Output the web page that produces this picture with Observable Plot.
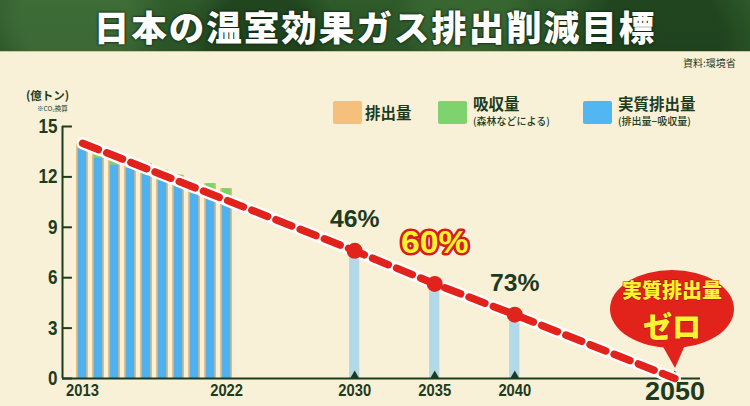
<!DOCTYPE html>
<html><head><meta charset="utf-8">
<script src="https://cdn.jsdelivr.net/npm/d3@7"></script>
<script src="https://cdn.jsdelivr.net/npm/@observablehq/plot@0.6"></script>
<style>
body{margin:0;background:#f8f1d7;}
#wrap{position:relative;width:750px;height:406px;overflow:hidden;background:#f8f1d7;font-family:"Noto Sans CJK JP",sans-serif;color:#1d3b1e;}
#title{height:52px;color:#fff;font-size:35.5px;font-weight:900;text-align:center;line-height:52px;letter-spacing:2px;
 background:
  radial-gradient(circle at 10% 30%, rgba(80,130,70,.45) 0 8%, transparent 14%),
  radial-gradient(circle at 35% 80%, rgba(20,50,20,.5) 0 10%, transparent 16%),
  radial-gradient(circle at 62% 20%, rgba(70,120,60,.4) 0 9%, transparent 15%),
  radial-gradient(circle at 88% 70%, rgba(20,50,20,.5) 0 9%, transparent 15%),
  linear-gradient(#2f5b2b,#2a5327);
 text-shadow:0 0 3px #10250f,0 0 2px #10250f;border-bottom:1px solid #c9c6a0;box-sizing:border-box;}
#chart{position:absolute;left:0;top:52px;}
.ov{position:absolute;white-space:nowrap;}
.sw{position:absolute;width:29px;height:23px;border-radius:2px;}
.lg{font-weight:700;font-size:15.5px;line-height:15px;}
.lgs{font-size:10px;line-height:11px;font-weight:500;}
</style></head>
<body><div id="wrap"><div id="title">日本の温室効果ガス排出削減目標</div><div id="chart"></div></div>
<script>
// ---- data ----
const years = [2013, 2014, 2015, 2016, 2017, 2018, 2019, 2020, 2021, 2022];
const emissions = [14.0, 13.5, 13.2, 13.0, 12.8, 12.4, 12.1, 11.6, 11.6, 11.3];
const netEmissions = [13.7, 13.1, 12.7, 12.5, 12.2, 11.8, 11.5, 11.0, 10.8, 10.5];
const targetYears = [2030, 2035, 2040];
const targetValues = [7.60, 5.63, 3.80];
const targetLabels = ["46%", "60%", "73%"];
const pathYears = [2013, 2030, 2035, 2040, 2050];
const pathValues = [14.0, 7.60, 5.63, 3.80, 0];
const yTicks = [0, 3, 6, 9, 12, 15];
const xTickLabels = [2013, 2022, 2030, 2035, 2040];
const goalYear = 2050;
const legendItems = ["排出量", "吸収量", "実質排出量"];
const legendNotes = ["", "(森林などによる)", "(排出量−吸収量)"];

const dark = "#1d3b1e";
const red = "#e1231c";
const boldFont = "'Liberation Sans',Arial,sans-serif";
const xDomain = [2011.75, 2051.6];

const hist = years.map((year, i) => ({year, total: emissions[i], net: netEmissions[i]}));
const targets = targetYears.map((year, i) => ({year, value: targetValues[i], label: targetLabels[i]}));
const path = pathYears.map((year, i) => ({year, value: pathValues[i]}));

const chart = Plot.plot({
  width: 750, height: 354,
  marginTop: 74, marginBottom: 28, marginLeft: 62, marginRight: 50,
  x: {domain: xDomain, label: null},
  y: {domain: [0, 15], label: null},
  style: {background: "transparent", color: dark, overflow: "visible"},
  marks: [
    Plot.rectY(hist, {x1: d => d.year - 0.37, x2: d => d.year + 0.37, y: "total", fill: "#e9b877"}),
    Plot.rectY(hist, {x1: d => d.year - 0.27, x2: d => d.year + 0.27, y1: "net", y2: "total", fill: "#7bd36a"}),
    Plot.rectY(hist, {x1: d => d.year - 0.27, x2: d => d.year + 0.27, y: "net", fill: "#4fb1ee"}),
    Plot.rectY(targets, {x1: d => d.year - 0.32, x2: d => d.year + 0.32, y: "value", fill: "#b3d9e8"}),
    Plot.ruleX([xDomain[0]], {y1: 0, y2: 15, stroke: dark, strokeWidth: 2}),
    Plot.ruleY(yTicks, {x1: xDomain[0], x2: xDomain[0] + 0.62, stroke: dark, strokeWidth: 2}),
    Plot.ruleY([0], {stroke: dark, strokeWidth: 2}),
    Plot.dot(targetYears.concat([goalYear]), {x: d => d, y: 0, symbol: "triangle", r: 3.2, fill: dark, dy: -3}),
    Plot.line(path, {x: "year", y: "value", stroke: "#fff", strokeWidth: 12, strokeDasharray: "21,5", strokeDashoffset: 2}),
    Plot.line(path, {x: "year", y: "value", stroke: red, strokeWidth: 7.5, strokeDasharray: "17,9"}),
    Plot.dot(targets, {x: "year", y: "value", r: 8, fill: red}),
    Plot.text(targets.filter(d => d.label !== "60%"), {x: "year", y: "value", text: "label", dy: -31, fontSize: 23, fontWeight: "bold", fontFamily: boldFont, fill: dark, className: "pct"}),
    Plot.text(targets.filter(d => d.label === "60%"), {x: "year", y: "value", text: "label", dy: -41, fontSize: 32, fontWeight: "bold", fontFamily: boldFont, fill: "#fff22e", stroke: "#d21f1a", strokeWidth: 5, paintOrder: "stroke", strokeLinejoin: "round", className: "pct60"}),
    Plot.axisY({ticks: yTicks, tickSize: 0, tickPadding: 5, fontSize: 20, fontWeight: "bold", fontFamily: boldFont, fill: dark, label: null}),
    Plot.axisX({ticks: xTickLabels, tickSize: 0, tickPadding: 5, tickFormat: d => String(d), fontSize: 17, fontWeight: "bold", fontFamily: boldFont, fill: dark, label: null}),
    Plot.text([goalYear], {x: d => d, y: 0, text: d => String(d), dy: 13, fontSize: 26, fontWeight: "bold", fontFamily: boldFont, fill: dark, className: "goal"})
  ]
});
document.getElementById("chart").appendChild(chart);

// condense numeric labels (narrow bold look)
const svg = d3.select(chart);
function condense(sel, perChar) {
  sel.each(function () {
    const t = this.textContent;
    this.setAttribute("textLength", perChar * t.length);
    this.setAttribute("lengthAdjust", "spacingAndGlyphs");
  });
}
condense(svg.selectAll("g[aria-label='x-axis tick label'] text"), 8.2);
condense(svg.selectAll("g[aria-label='y-axis tick label'] text"), 9.5);
condense(svg.selectAll(".goal text"), 15);
condense(svg.selectAll(".pct text"), 16.5);
condense(svg.selectAll(".pct60 text"), 22.5);

// ---- overlays (legend, unit, source, callout) ----
const wrap = document.getElementById("wrap");
function add(html, style, cls = "ov") {
  const el = document.createElement("div");
  el.className = cls;
  el.innerHTML = html;
  Object.assign(el.style, style);
  wrap.appendChild(el);
  return el;
}
add("資料:環境省", {left: "683px", top: "55px", fontSize: "10px"});
add("(億トン)", {left: "26px", top: "89px", fontSize: "11.5px", fontWeight: "700", lineHeight: "13px"});
add("※CO₂換算", {left: "37px", top: "105px", fontSize: "6.5px", lineHeight: "7px"});

const swColors = ["#f5c07c", "#7fd36f", "#52b6f0"];
const swX = [333, 438, 583];
legendItems.forEach((t, i) => {
  add("", {left: swX[i] + "px", top: "101px", background: swColors[i]}, "sw");
  if (legendNotes[i]) {
    add(t, {left: (swX[i] + 35) + "px", top: "96px"}, "ov lg");
    add(legendNotes[i], {left: (swX[i] + 35) + "px", top: "115px"}, "ov lgs");
  } else {
    add(t, {left: (swX[i] + 32) + "px", top: "105px"}, "ov lg");
  }
});

const gx = chart.scale("x").apply(goalYear);
add(`<svg width="132" height="104" viewBox="0 0 132 104">
  <ellipse cx="65" cy="41" rx="62" ry="39" fill="${red}"/>
  <polygon points="50,68 82,68 68,100" fill="${red}"/>
  <text x="65" y="30" text-anchor="middle" font-size="20" font-weight="900" fill="#fff234" stroke="#a8140f" stroke-width="1" paint-order="stroke" font-family="Noto Sans CJK JP">実質排出量</text>
  <text x="65" y="70" text-anchor="middle" font-size="29" font-weight="900" fill="#fff234" stroke="#a8140f" stroke-width="1" paint-order="stroke" font-family="Noto Sans CJK JP">ゼロ</text>
</svg>`, {left: (gx - 67) + "px", top: "268px"});
</script>
</body></html>
